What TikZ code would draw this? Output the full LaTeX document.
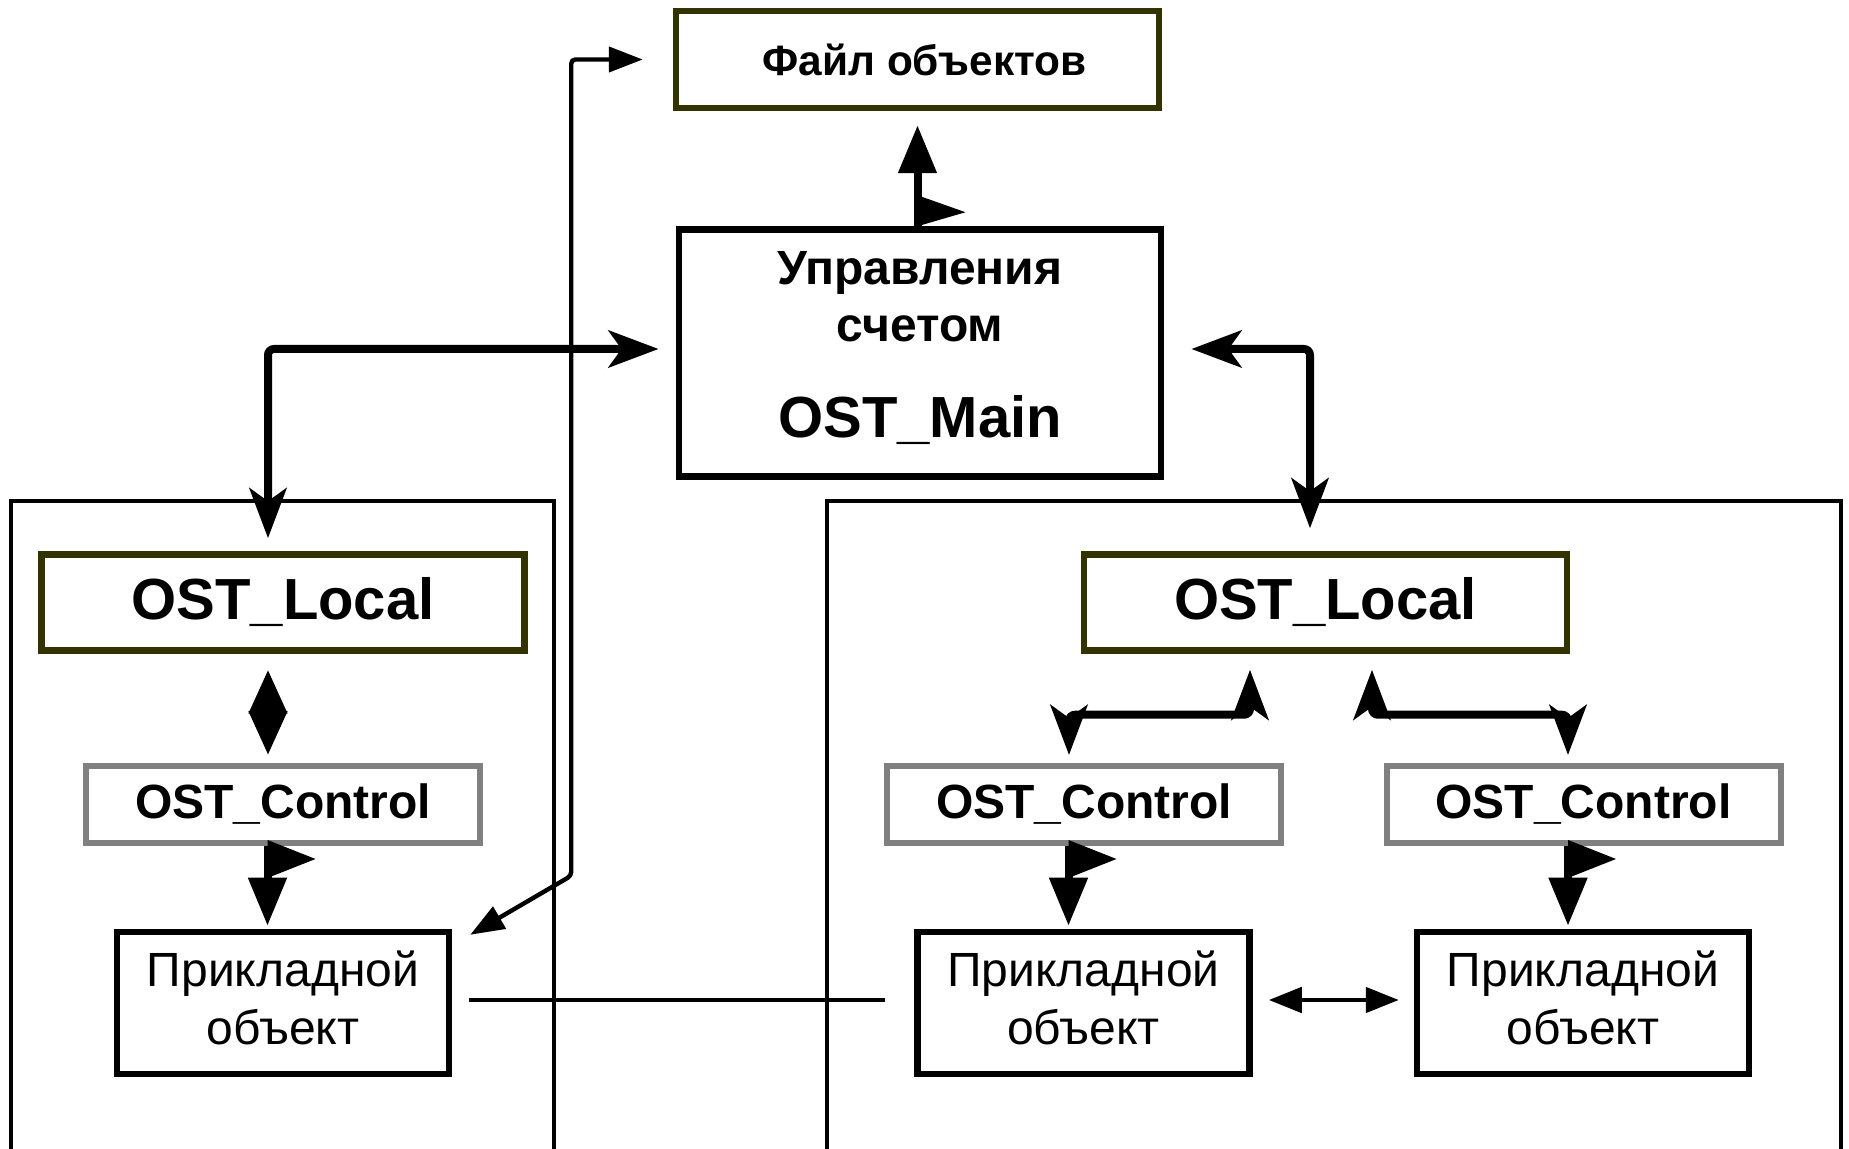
\documentclass[tikz,border=0pt]{standalone}
\usepackage{fontspec}
\setmainfont{Liberation Sans}
\usetikzlibrary{arrows.meta}
\definecolor{ostolive}{RGB}{51,51,0}
\definecolor{ostgray}{RGB}{128,128,128}

\begin{document}
\begin{tikzpicture}[
  x=0.5pt, y=-0.5pt,
  filebox/.style={draw=ostolive, line width=3.25pt, inner sep=0pt,
    minimum width=241.5pt, minimum height=48.5pt,
    font=\fontsize{21.2}{25}\selectfont\bfseries},
  mainbox/.style={draw, line width=3.25pt, inner sep=0pt, align=center,
    minimum width=241.2pt, minimum height=123.5pt, text depth=9pt,
    font=\fontsize{24}{28.5}\selectfont\bfseries},
  localbox/.style={draw=ostolive, line width=3.25pt, inner sep=0pt,
    minimum width=241.5pt, minimum height=48pt,
    font=\fontsize{29}{34}\selectfont\bfseries},
  ctrlbox/.style={draw=ostgray, line width=3pt, inner sep=0pt,
    minimum width=197pt, minimum height=38.5pt,
    font=\fontsize{24}{28}\selectfont\bfseries},
  objbox/.style={draw, line width=3.25pt, inner sep=0pt, align=center,
    minimum width=166pt, minimum height=71pt, text depth=5pt,
    font=\fontsize{24}{29}\selectfont},
  frame/.style={line width=2pt},
  bigarr/.style={line width=4pt, rounded corners=3pt,
    {Stealth[length=25pt,width=18.5pt,inset=6.5pt]}-{Stealth[length=25pt,width=18.5pt,inset=6.5pt]}},
  diamarr/.style={line width=4pt,
    {Triangle[length=22pt,width=18.5pt]}-{Triangle[length=22pt,width=18.5pt]}},
  flagarr/.style={line width=4pt, -{Triangle[length=24pt,width=18.5pt]}},
  thinarr/.style={line width=2.2pt, rounded corners=2pt,
    {Triangle[length=17pt,width=12.5pt]}-{Triangle[length=17pt,width=12.5pt]}},
  pairarr/.style={line width=2.4pt,
    {Triangle[length=16.5pt,width=12.5pt]}-{Triangle[length=16.5pt,width=12.5pt]}},
  link/.style={line width=2pt}
]
\useasboundingbox (0,0) rectangle (1849,1149);

% boxes
\node[filebox] (file) at (917.5,59.5) {\hspace*{7pt}Файл объектов};
\node[mainbox] (main) at (920,353) {Управления\\счетом\\[19.5pt]
  \fontsize{29}{34}\selectfont OST\_Main};
\node[localbox] (localL) at (283,602.5) {OST\_Local};
\node[localbox] (localR) at (1325.5,602.5) {OST\_Local};
\node[ctrlbox] (ctrlL) at (283,804.5) {OST\_Control};
\node[ctrlbox] (ctrlA) at (1084,804.5) {OST\_Control};
\node[ctrlbox] (ctrlB) at (1583.5,804.5) {OST\_Control};
\node[objbox] (objL) at (283,1003) {Прикладной\\объект};
\node[objbox] (objA) at (1083.5,1003) {Прикладной\\объект};
\node[objbox] (objB) at (1583,1003) {Прикладной\\объект};

% frames, open at the bottom
\draw[frame] (11,1149) |- (554,501) -- (554,1149);
\draw[frame] (827,1149) |- (1841,501) -- (1841,1149);

% main <-> files
\draw[flagarr, shorten >=7pt] (file.south |- main.north) -- (file.south);
\fill (file.south |- main.north) -- ++(48,-14) -- ++(-48,-17) -- cycle;

% main <-> locals
\draw[bigarr, shorten <=6.5pt, shorten >=8.5pt]
  ([xshift=-7.5pt]localL.north) |- ([yshift=2pt]main.west);
\draw[bigarr, shorten <=13.5pt, shorten >=11.5pt]
  ([yshift=2pt]main.east) -| ([xshift=-7.75pt]localR.north);

% local <-> controls
\draw[diamarr, shorten <=8pt, shorten >=4pt]
  ([xshift=-7.5pt]localL.south) -- ([xshift=-7.5pt]ctrlL.north);
\draw[bigarr, shorten <=8pt, shorten >=4pt]
  ([xshift=-37.75pt]localR.south) -- ++(0,61) -| ([xshift=-7.5pt]ctrlA.north);
\draw[bigarr, shorten <=8pt, shorten >=4pt]
  ([xshift=23.25pt]localR.south) -- ++(0,61) -| ([xshift=-7.75pt]ctrlB.north);

% controls -> objects
\foreach \c/\o in {ctrlL/objL, ctrlA/objA, ctrlB/objB} {
  \draw[flagarr, shorten >=1.5pt]
    ([xshift=-7.75pt]\c.south) -- ([xshift=-7.75pt]\c.south |- \o.north);
  \fill ([xshift=-7.75pt,yshift=3pt]\c.south) -- ++(48,19) -- ++(-48,19) -- cycle;
}

% object links
\draw[thinarr, shorten >=15pt]
  ([xshift=9pt,yshift=-3pt]objL.north east) -- ++(101,-59) |- (file.west);
\draw[link, shorten <=8.5pt, shorten >=14.5pt]
  ([yshift=1.5pt]objL.east) -- ([yshift=1.5pt]objA.west);
\draw[pairarr, shorten <=8pt, shorten >=7.5pt]
  ([yshift=1.5pt]objA.east) -- ([yshift=1.5pt]objB.west);
\end{tikzpicture}
\end{document}
